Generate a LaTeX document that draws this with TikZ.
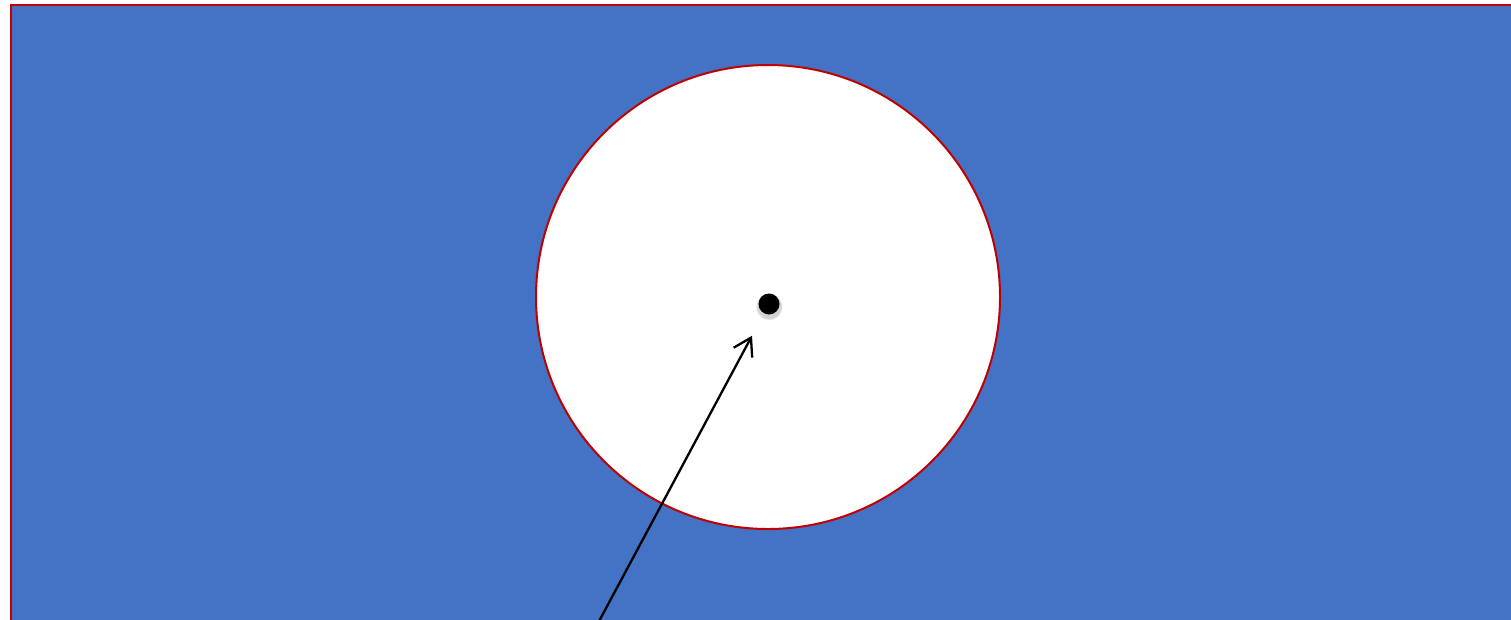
\documentclass[tikz,border=0pt]{standalone}
\usetikzlibrary{arrows.meta,shadows}
\definecolor{sheetblue}{HTML}{4472C4}
\definecolor{rimred}{HTML}{C00000}
\begin{document}
\begin{tikzpicture}[x=1pt, y=-1pt, every node/.style={inner sep=0pt}]
  \useasboundingbox (0,0) rectangle (1511,619);
  \begin{scope}
    \clip (0,0) rectangle (1511,619);
    \draw[rimred, line width=2.5pt, fill=sheetblue] (11,5) rectangle (1530,640);
  \end{scope}

  \node[circle, draw=rimred, line width=2pt, fill=white, minimum size=464pt] (hole) at (768,297) {};

  \node[circle, fill=black, minimum size=21pt,
    circular drop shadow={shadow xshift=0pt, shadow yshift=-2pt, shadow scale=1.3, fill=gray, opacity=0.35}] (ball) at (769,304) {};

  \coordinate (tail) at (597,625);
  \draw[line width=2.3pt, -{Straight Barb[length=17pt, width=21pt, line width=2.3pt]}, shorten >=36pt] (tail) -- (ball.center);
\end{tikzpicture}
\end{document}
